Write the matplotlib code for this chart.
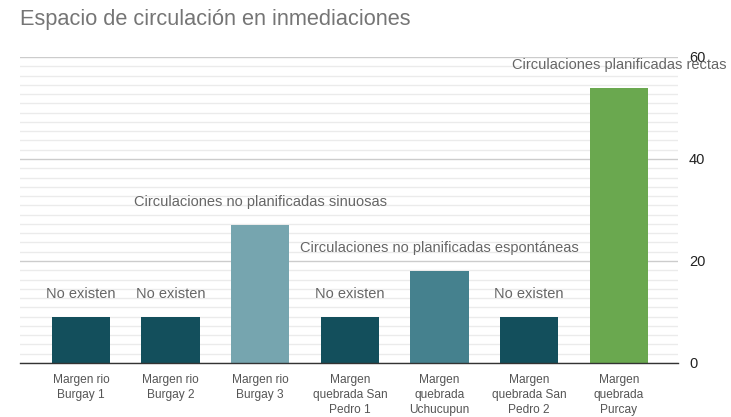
import matplotlib
matplotlib.use("Agg")
import matplotlib.pyplot as plt
import numpy as np

plt.rcParams['font.family'] = ['Liberation Sans', 'DejaVu Sans']

categories = ["Margen rio\nBurgay 1", "Margen rio\nBurgay 2", "Margen rio\nBurgay 3",
              "Margen\nquebrada San\nPedro 1", "Margen\nquebrada\nUchucupun",
              "Margen\nquebrada San\nPedro 2", "Margen\nquebrada\nPurcay"]
values = [9, 9, 27, 9, 18, 9, 54]
labels = ["No existen", "No existen", "Circulaciones no planificadas sinuosas", "No existen",
          "Circulaciones no planificadas espontáneas", "No existen",
          "Circulaciones planificadas rectas"]
colors = ["#134f5c", "#134f5c", "#76a5af", "#134f5c", "#45818e", "#134f5c", "#6aa84f"]
yticks = [0, 20, 40, 60]

fig = plt.figure(figsize=(7.31, 4.17), dpi=100)
ax = fig.add_axes([20/731, 1-363/417, 658/731, 306/417])

x = np.arange(len(values))
ax.bar(x, values, width=0.65, color=colors, zorder=3)
ax.set_xlim(-0.68, 6.66)
ax.set_ylim(0, 60)

# gridlines
minor = []
for k in range(3):
    for j in range(1, 11):
        minor.append(k*20 + j*20/11)
ax.set_yticks(minor, minor=True)
ax.set_yticks(yticks)
ax.yaxis.tick_right()
ax.tick_params(axis='y', which='both', length=0, pad=8, labelsize=10.5, labelcolor='#222222')
ax.tick_params(axis='y', which='minor', labelright=False)
ax.grid(axis='y', which='major', color='#cccccc', linewidth=1, zorder=0)
ax.grid(axis='y', which='minor', color='#ebebeb', linewidth=1, zorder=0)

ax.set_xticks(x)
ax.set_xticklabels(categories, fontsize=8.6, color='#555555', linespacing=1.3)
ax.tick_params(axis='x', length=0, pad=8)

for s in ['top', 'left', 'right']:
    ax.spines[s].set_visible(False)
ax.spines['bottom'].set_color('#333333')
ax.spines['bottom'].set_linewidth(1)
ax.spines['bottom'].set_zorder(4)

for xi, v, lab in zip(x, values, labels):
    ax.annotate(lab, (xi, v), xytext=(0, 23), textcoords='offset pixels',
                ha='center', va='center', fontsize=10.5, color='#666666', zorder=5,
                annotation_clip=False)

fig.text(20/731, 1-20/417, "Espacio de circulación en inmediaciones", fontsize=15.7,
         color='#757575', ha='left', va='center')

fig.savefig("out.png", dpi=100)
